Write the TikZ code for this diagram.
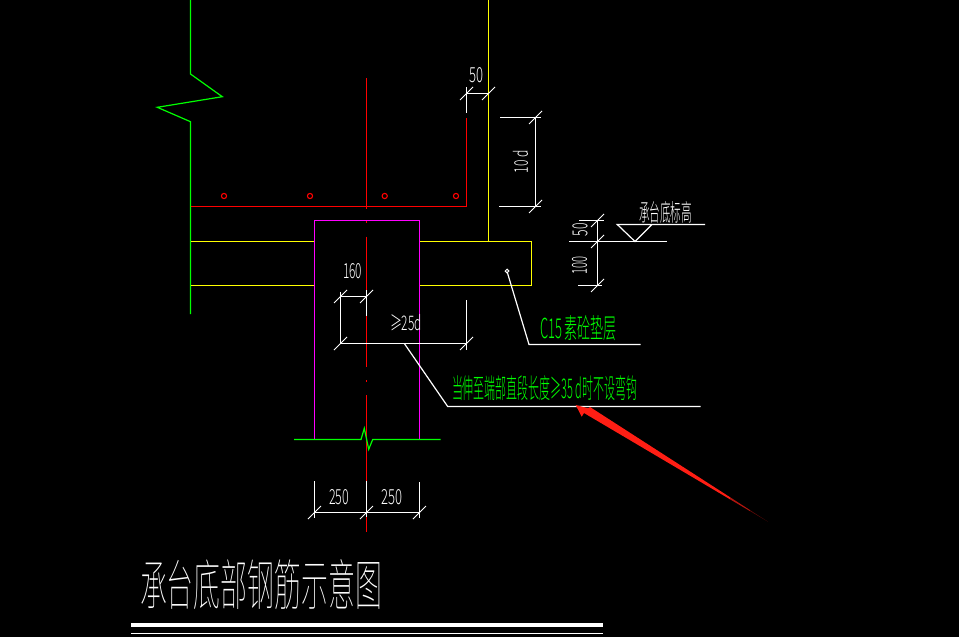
\documentclass[tikz,border=0pt]{standalone}
\usepackage{fontspec}
\usepackage{graphicx}
\newfontfamily\cjk{Noto Sans CJK SC Light}
\newfontfamily\cjkthin{Noto Sans CJK SC Thin}
\newcommand{\fitbox}[3]{\resizebox{#1pt}{#2pt}{\cjk #3}}
\newcommand{\fitthin}[3]{\resizebox{#1pt}{#2pt}{\cjkthin #3}}
\definecolor{cadred}{RGB}{255,0,0}
\definecolor{arrowred}{RGB}{255,30,20}
\definecolor{cadgreen}{RGB}{0,255,0}
\definecolor{cadyellow}{RGB}{255,255,0}
\definecolor{cadmag}{RGB}{255,0,255}
\tikzset{
  wline/.style={draw=white,line width=1.2pt},
  rline/.style={draw=cadred,line width=1.7pt},
  gline/.style={draw=cadgreen,line width=1.2pt},
  yline/.style={draw=cadyellow,line width=1.5pt},
  mline/.style={draw=cadmag,line width=1.6pt},
  lbl/.style={inner sep=0pt,outer sep=0pt,text=white},
  glbl/.style={inner sep=0pt,outer sep=0pt,text=cadgreen},
  tick/.pic={\draw[draw=white,line width=1pt] (-6.5,6.5) -- (6.5,-6.5);}
}
\begin{document}
\begin{tikzpicture}[x=1pt,y=-1pt]
\fill[black] (0,0) rectangle (959,637);
\useasboundingbox (0,0) rectangle (959,637);
% key points
\coordinate (wallT) at (190.5,0);
\coordinate (wallB) at (190.5,314);
\coordinate (barL) at (190.5,206.5);
\coordinate (barR) at (466.5,206.5);
\coordinate (barT) at (466.5,118);
\coordinate (yT) at (488.5,0);
\coordinate (yB) at (488.5,241.5);
\coordinate (pTL) at (314.5,220.5);
\coordinate (pTR) at (419.5,220.5);
\coordinate (pBL) at (314.5,439.5);
\coordinate (pBR) at (419.5,439.5);
% green wall with break
\draw[gline] (wallT) -- (190.5,74) -- (222.3,96.7) -- (157.3,107.3) -- (190.5,121.7) -- (wallB);
% cushion (yellow)
\draw[yline] (190.5,241.5) -- (314.5,241.5);
\draw[yline] (190.5,285.5) -- (314.5,285.5);
\draw[yline] (419.5,241.5) -- (531.5,241.5) -- (531.5,285.5) -- (419.5,285.5);
\draw[yline] (yT) -- (yB);
% pile
\draw[mline] (pBL) -- (pTL) -- (pTR) -- (pBR);
% centre line
\draw[rline] (366.5,78) -- (366.5,208.7);
\draw[rline] (366.5,221) -- (366.5,223);
\draw[rline] (366.5,236.7) -- (366.5,290);
\draw[rline] (366.5,316) -- (366.5,366.7);
\draw[rline] (366.5,380) -- (366.5,382);
\draw[rline] (366.5,395) -- (366.5,480.7);
\draw[rline] (366.5,516.7) -- (366.5,531.7);
% bar
\draw[rline] (barL) -- (barR) -- (barT);
\foreach \x in {224,310,384.7,456}
  \draw[draw=cadred,line width=1.1pt] (\x,196) circle[radius=2.6];
% pile base with break
\draw[gline] (294,439.5) -- (361,439.5) -- (364.3,428.3) -- (368.7,449.3) -- (372.7,439.5) -- (440.7,439.5);
% dimension 50 top
\coordinate (d50a) at (466.5,93.5);
\coordinate (d50b) at (488.5,93.5);
\draw[wline] (466.5,87) -- (466.5,113);
\draw[wline] (d50a) -- (d50b);
\pic at (d50a) {tick}; \pic at (d50b) {tick};
\node[lbl] (t50) at (476,75.5) {\fitbox{14}{15}{50}};
% dimension 10d
\coordinate (d10a) at (535.5,117.5);
\coordinate (d10b) at (535.5,206.5);
\draw[wline] (500,117.5) -- (541,117.5);
\draw[wline] (499,206.5) -- (541,206.5);
\draw[wline] (d10a) -- (d10b);
\pic at (d10a) {tick}; \pic at (d10b) {tick};
\node[lbl,rotate=90] (t10d) at (520.5,161.5) {\fitbox{23}{15}{10 d}};
% dims 50 / 100 elevation
\coordinate (e1) at (597.5,220.5);
\coordinate (e2) at (597.5,241.5);
\coordinate (e3) at (597.5,285.5);
\draw[wline] (579,220.5) -- (604,220.5);
\draw[wline] (569,241.5) -- (666.7,241.5);
\draw[wline] (578,285.5) -- (602,285.5);
\draw[wline] (e1) -- (e3);
\pic at (e1) {tick}; \pic at (e2) {tick}; \pic at (e3) {tick};
\node[lbl,rotate=90] (t50b) at (580,229.5) {\fitbox{13}{15}{50}};
\node[lbl,rotate=90] (t100) at (579.5,265) {\fitbox{18}{15}{100}};
% elevation mark
\draw[wline] (705,224.5) -- (617.3,224.5) -- (635,241.5) -- (652,224.5);
\node[lbl] (telev) at (665.5,212) {\fitbox{53}{20}{承台底标高}};
% C15 leader
\coordinate (cdot) at (507,271);
\draw[draw=white,line width=1pt] (cdot) circle[radius=1.8];
\draw[wline] (507.5,273) -- (529,344.5) -- (640.7,344.5);
\node[glbl] (tc15) at (578.5,328.5) {\fitbox{77}{23}{C15 素砼垫层}};
% 160 dim
\coordinate (a160) at (340.5,296.5);
\coordinate (b160) at (366.5,296.5);
\coordinate (c25) at (340.5,343.5);
\coordinate (d25) at (466.5,343.5);
\draw[wline] (340.5,292) -- (c25);
\draw[wline] (a160) -- (b160);
\draw[wline] (366.5,290) -- (366.5,316);
\pic at (a160) {tick}; \pic at (b160) {tick};
\node[lbl] (t160) at (352.5,271.5) {\fitbox{19}{15}{160}};
% 25d dim
\draw[wline] (c25) -- (d25);
\draw[wline] (466.5,349.5) -- (466.5,300);
\pic at (c25) {tick}; \pic at (d25) {tick};
\node[lbl] (t25d) at (406,323) {\fitbox{32}{16}{≥25d}};
% long leader
\draw[wline] (404.3,343.5) -- (447.7,406.5) -- (700.7,406.5);
\node[glbl] (tlong) at (544.5,388.5) {\fitbox{185}{23}{当伸至端部直段长度≥35 d时不设弯钩}};
% bottom dims
\coordinate (f1) at (314.5,512.5);
\coordinate (f2) at (366.5,512.5);
\coordinate (f3) at (419.5,512.5);
\draw[wline] (314.5,481) -- (314.5,518);
\draw[wline] (366.5,480.7) -- (366.5,516.7);
\draw[wline] (419.5,482) -- (419.5,518);
\draw[wline] (f1) -- (f3);
\pic at (f1) {tick}; \pic at (f2) {tick}; \pic at (f3) {tick};
\node[lbl] (t250a) at (339,497.5) {\fitbox{20}{15}{250}};
\node[lbl] (t250b) at (391.5,497.5) {\fitbox{21}{15}{250}};
% red arrow, tapering and fading towards its tail
\fill[arrowred] (575.7,405) -- (581.7,416.7) -- (584,413) -- (730,499.3) -- (730,497.2) -- (590,407) -- (588.3,408.3) -- cycle;
\fill[arrowred!70!black] (730,499.3) -- (750,511.1) -- (750,510.1) -- (730,497.2) -- cycle;
\fill[arrowred!35!black] (750,511.1) -- (768,521.7) -- (750,510.1) -- cycle;
% title
\node[lbl] (ttitle) at (261,585) {\fitthin{242}{46}{承台底部钢筋示意图}};
\draw[draw=white,line width=4pt] (131,625) -- (603,625);
\draw[draw=white,line width=1.2pt] (131,633.5) -- (603,633.5);
\end{tikzpicture}
\end{document}
